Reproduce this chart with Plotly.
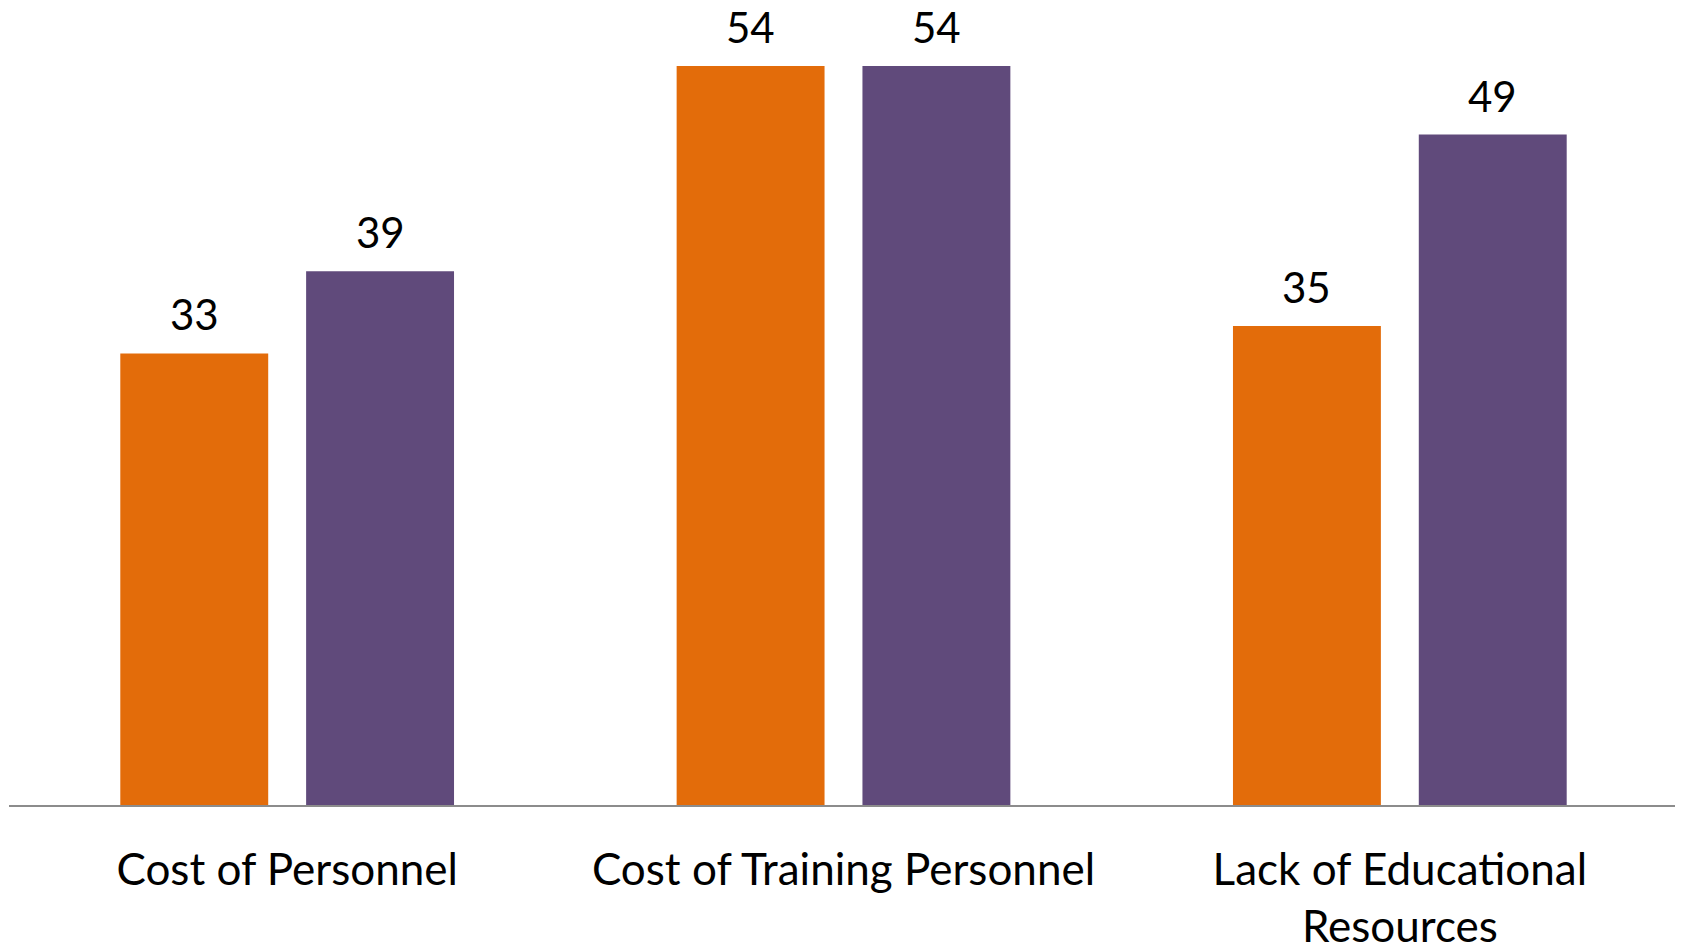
import plotly.graph_objects as go

categories = ["Cost of Personnel", "Cost of Training Personnel", "Lack of Educational<br>Resources"]
series_a = [33, 54, 35]
series_b = [39, 54, 49]
series_names = ["Series 1", "Series 2"]
colors = ["#E36C0A", "#604A7B"]

FONT = "Lato"

fig = go.Figure()
for name, vals, col in zip(series_names, [series_a, series_b], colors):
    fig.add_trace(go.Bar(x=categories, y=vals, name=name, marker=dict(color=col, line=dict(width=0))))

# value labels above each bar
px_shift = 93
for i, vals in enumerate([series_a, series_b]):
    for cat, v in zip(categories, vals):
        fig.add_annotation(
            x=cat, y=v, text=str(v), showarrow=False,
            xshift=(-px_shift if i == 0 else px_shift), yshift=12,
            yanchor="bottom", font=dict(family=FONT, size=42, color="black"),
        )

# page body adds an 8px offset, margins compensate for it
fig.update_layout(
    width=1683, height=948,
    margin=dict(l=1, r=13, t=2, b=151),
    barmode="group", bargap=0.332, bargroupgap=0.204,
    plot_bgcolor="white", paper_bgcolor="white",
    showlegend=False,
    font=dict(family=FONT, size=44, color="black"),
)
fig.update_xaxes(showline=True, linecolor="#8C8C8C", linewidth=2, ticks="",
                 tickfont=dict(family=FONT, size=44, color="black"), ticklabelstandoff=25)
fig.update_yaxes(visible=False, range=[0, 58.1], showgrid=False, zeroline=False)

fig.write_html("out.html")
